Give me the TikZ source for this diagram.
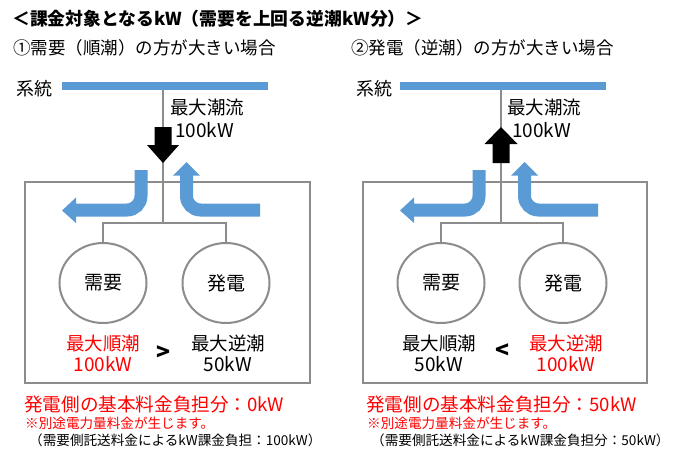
\documentclass[tikz,border=0pt]{standalone}
\usepackage{fontspec}
\setmainfont{Noto Sans CJK JP}
\usetikzlibrary{shapes.geometric}
\definecolor{flowblue}{HTML}{5B9BD5}
\definecolor{linegray}{HTML}{8C8C8C}
\definecolor{alertred}{HTML}{FF0000}
\tikzset{
  fs/.style={font=\fontsize{#1}{#1}\selectfont},
  txt/.style={inner sep=0pt, anchor=west},
  ctxt/.style={inner sep=0pt, align=center},
  gline/.style={draw=linegray, line width=2pt},
  boxline/.style={draw=linegray, line width=2.2pt},
  busbar/.style={draw=flowblue, line width=8.5pt},
  flow/.style={draw=flowblue, line width=13pt, rounded corners=14pt},
  flowhead/.style={fill=flowblue},
  blk/.style={fill=black},
  loadcircle/.style={ellipse, draw=linegray, line width=2pt, minimum width=87pt, minimum height=80pt, inner sep=0pt, font=\fontsize{19}{19}\selectfont},
  cmpsign/.style={inner sep=0pt, font=\bfseries\fontsize{23}{23}\selectfont},
}
\begin{document}
\begin{tikzpicture}[x=1pt,y=-1pt]
\useasboundingbox (0,0) rectangle (677,458);
\fill[white] (0,0) rectangle (677,458);
% title
\node[txt, font=\bfseries\fontsize{17.8}{17.8}\selectfont] (title) at (12,19) {＜課金対象となるkW（需要を上回る逆潮kW分）＞};

% ================= Panel 1 =================
\node[txt, fs=17.5] (L-sub) at (13,48) {①需要（順潮）の方が大きい場合};
\node[txt, fs=18] (L-grid) at (16,88.5) {系統};
\coordinate (L-barL) at (62,86);
\coordinate (L-barR) at (268,86);
\coordinate (L-tap) at (163,86);
\coordinate (L-junc) at (163,223);
\draw[boxline] (25,182) rectangle (310,383);
\draw[gline] (L-tap) -- (L-junc);
\draw[busbar] (L-barL) -- (L-barR);
\node[loadcircle] (L-dem) at (103,283) {需要};
\node[loadcircle] (L-gen) at (226,283) {発電};
\draw[gline] (L-dem.north) |- (L-junc) -| (L-gen.north);
% black down arrow
\fill[blk] (154.5,127) -- (171.5,127) -- (171.5,145) -- (179,145) -- (163,163) -- (147,145) -- (154.5,145) -- cycle;
% blue flows
\draw[flow] (141,170) -- (141,210) -- (74,210);
\fill[flowhead] (76,197.5) -- (62,210.5) -- (76,223) -- cycle;
\draw[flow] (260,210) -- (186.5,210) -- (186.5,174);
\fill[flowhead] (173,175.5) -- (186.5,162) -- (200,175.5) -- cycle;
\node[txt, fs=18.5] (L-maxl) at (170,107.5) {最大潮流};
\node[txt, fs=19] (L-maxv) at (175,130) {100kW};
\node[ctxt, fs=18.5, text=alertred] (L-fwd) at (103,343) {最大順潮};
\node[ctxt, fs=19, text=alertred] (L-fwdv) at (103,364) {100kW};
\node[cmpsign] (L-cmp) at (164,353) {>};
\node[ctxt, fs=18.5] (L-rev) at (228,343) {最大逆潮};
\node[ctxt, fs=19] (L-revv) at (228,364) {50kW};
\node[txt, fs=18.6, text=alertred] (L-res) at (24,404) {発電側の基本料金負担分：0kW};
\node[txt, fs=13.6, text=alertred] (L-note) at (25,423) {※別途電力量料金が生じます。};
\node[txt, fs=13.6] (L-note2) at (29,440) {（需要側託送料金によるkW課金負担：100kW）};

% ================= Panel 2 =================
\begin{scope}[xshift=338pt]
\node[txt, fs=17.5] (R-sub) at (13,48) {②発電（逆潮）の方が大きい場合};
\node[txt, fs=18] (R-grid) at (18,88.5) {系統};
\coordinate (R-barL) at (62,86);
\coordinate (R-barR) at (268,86);
\coordinate (R-tap) at (163,86);
\coordinate (R-junc) at (163,223);
\draw[boxline] (25,182) rectangle (309,383);
\draw[gline] (R-tap) -- (R-junc);
\draw[busbar] (R-barL) -- (R-barR);
\node[loadcircle] (R-dem) at (103,283) {需要};
\node[loadcircle] (R-gen) at (225,283) {発電};
\draw[gline] (R-dem.north) |- (R-junc) -| (R-gen.north);
% black up arrow
\fill[blk] (154.5,163) -- (171.5,163) -- (171.5,144) -- (179.5,144) -- (163,127) -- (146.5,144) -- (154.5,144) -- cycle;
% blue flows
\draw[flow] (141,170) -- (141,210) -- (74,210);
\fill[flowhead] (76,197.5) -- (62,210.5) -- (76,223) -- cycle;
\draw[flow] (260,210) -- (186.5,210) -- (186.5,174);
\fill[flowhead] (173,175.5) -- (186.5,162) -- (200,175.5) -- cycle;
\node[txt, fs=18.5] (R-maxl) at (169,107.5) {最大潮流};
\node[txt, fs=19] (R-maxv) at (174,130) {100kW};
\node[ctxt, fs=18.5] (R-fwd) at (101,343) {最大順潮};
\node[ctxt, fs=19] (R-fwdv) at (101,364) {50kW};
\node[cmpsign] (R-cmp) at (164,351) {<};
\node[ctxt, fs=18.5, text=alertred] (R-rev) at (228,343) {最大逆潮};
\node[ctxt, fs=19, text=alertred] (R-revv) at (228,364) {100kW};
\node[txt, fs=18.6, text=alertred] (R-res) at (28,404) {発電側の基本料金負担分：50kW};
\node[txt, fs=13.6, text=alertred] (R-note) at (29,423) {※別途電力量料金が生じます。};
\node[txt, fs=13.6] (R-note2) at (33,440) {（需要側託送料金によるkW課金負担分：50kW）};
\end{scope}
\end{tikzpicture}
\end{document}
